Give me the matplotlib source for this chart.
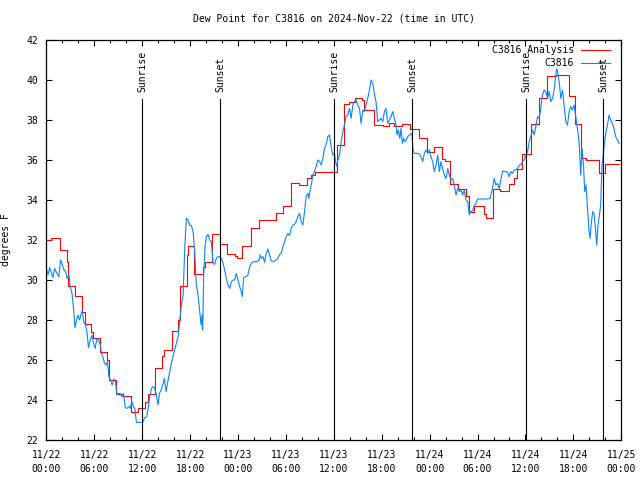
import numpy as np
import matplotlib
matplotlib.use("Agg")
from matplotlib import pyplot as plt
import matplotlib.dates as mdates

# hours since 2024-11-22 00:00 UTC
start = np.datetime64("2024-11-22T00:00")
end = np.datetime64("2024-11-25T00:00")

# analysis (step series): start hour of each step and its value
red_hours = [0.0, 0.65, 1.75, 2.6, 2.75, 3.6, 4.5, 4.8, 5.6, 5.8, 6.75, 7.6, 7.85,
             8.75, 9.6, 10.6, 11.5, 12.4, 12.75, 13.6, 14.5, 14.8, 15.7, 16.5, 16.75,
             17.6, 17.8, 18.5, 19.6, 19.9, 20.7, 21.8, 22.6, 23.6, 23.9, 24.5, 25.6,
             26.6, 28.7, 29.6, 30.6, 31.6, 32.6, 33.2, 33.6, 36.35, 37.3, 37.9, 38.6,
             39.5, 39.8, 41.0, 42.1, 42.9, 43.6, 44.6, 45.6, 46.7, 47.7, 48.6, 49.6,
             49.9, 50.6, 51.5, 52.5, 52.9, 53.6, 54.8, 55.1, 55.9, 56.8, 57.9, 58.6,
             59.0, 59.6, 60.7, 61.7, 62.7, 63.8, 65.4, 66.2, 67.0, 67.6, 69.2, 69.9,
             71.7]
red_vals = [32.0, 32.1, 31.5, 30.9, 29.7, 29.2, 28.4, 27.8, 27.4, 27.1, 26.4, 26.0, 25.0,
            24.3, 24.2, 23.4, 23.6, 23.9, 24.3, 25.6, 26.2, 26.5, 27.45, 28.0, 29.7,
            31.25, 31.7, 30.3, 30.65, 30.9, 32.3, 31.8, 31.3, 31.2, 31.1, 31.7, 32.6,
            33.0, 33.35, 33.7, 34.83, 34.75, 35.1, 35.25, 35.4, 36.75, 38.8, 38.9, 39.1,
            39.0, 38.5, 37.75, 37.7, 37.85, 37.7, 37.8, 37.55, 37.1, 36.4, 36.65, 36.05,
            35.95, 34.8, 34.55, 34.2, 33.4, 33.7, 33.3, 33.1, 34.55, 34.45, 34.8, 35.1,
            35.55, 36.3, 37.8, 39.1, 40.2, 40.25, 39.2, 37.8, 36.1, 36.0, 35.35, 35.8,
            35.8]

# station observations
blue_hours = [
    0, 0.21, 0.42, 0.62, 0.83, 1.04, 1.33, 1.58, 1.79, 2.0, 2.21, 2.42, 2.62, 2.83, 3.0,
    3.21, 3.42, 3.58, 3.75, 3.96, 4.17, 4.38, 4.5, 4.67, 4.92, 5.08, 5.29, 5.5, 5.71,
    5.92, 6.12, 6.33, 6.54, 6.75, 6.92, 7.08, 7.29, 7.5, 7.67, 7.83, 8.04, 8.25, 8.46,
    8.67, 8.83, 9.04, 9.25, 9.46, 9.67, 9.88, 10.08, 10.33, 10.5, 10.71, 10.92, 11.08,
    11.29, 11.67, 12.08, 12.33, 12.58, 12.75, 12.92, 13.17, 13.33, 13.54, 13.75, 14.0,
    14.17, 14.38, 14.58, 14.79, 15.0, 15.21, 15.42, 15.62, 16.0,
    16.5, 16.71, 16.92, 17.13, 17.33, 17.54, 17.75, 17.96, 18.17, 18.38, 18.58, 18.79,
    19.0, 19.21, 19.38, 19.5, 19.58, 19.71, 19.88, 20.04, 20.25, 20.46, 20.67, 20.88,
    21.08, 21.29, 21.5, 21.71, 21.92, 22.13, 22.33, 22.54, 22.75, 22.96, 23.17, 23.38,
    23.58, 23.79, 24.0, 24.21, 24.42, 24.54, 24.71, 24.96, 25.21, 25.38, 25.54, 25.79,
    26.08, 26.38, 26.63, 26.79, 26.96, 27.13, 27.33, 27.54, 27.75, 27.96, 28.17, 28.38,
    28.58,
    28.79, 29.0, 29.21, 29.42, 29.63, 29.83, 30.04, 30.25, 30.46, 30.67, 30.88, 31.08,
    31.29, 31.5, 31.71, 31.92, 32.13, 32.33, 32.54, 32.75, 32.88, 33.04, 33.21, 33.38,
    33.59, 33.79, 34.0, 34.21, 34.42, 34.63, 34.83, 35.04, 35.25, 35.46, 35.67, 35.88,
    36.08, 36.21, 36.38, 36.5, 36.71, 36.92, 37.13, 37.34, 37.54, 37.75, 37.96, 38.17,
    38.38, 38.59, 38.79, 39.0, 39.21, 39.42, 39.63, 39.83, 40.04, 40.25, 40.46, 40.67,
    40.88, 41.09, 41.29, 41.5, 41.71, 41.92, 42.13, 42.34, 42.54, 42.75, 42.96, 43.17,
    43.38, 43.59,
    43.80, 43.92, 44.09, 44.26, 44.42, 44.59, 44.76, 44.92, 45.09, 45.26, 45.47, 45.67,
    45.8, 45.92, 46.09, 46.3, 46.51, 46.72, 46.92, 47.13, 47.34, 47.55, 47.76, 47.97,
    48.17, 48.38, 48.59, 48.8, 49.01, 49.22, 49.42, 49.63, 49.84, 50.05, 50.26, 50.47,
    50.67, 50.88, 51.09, 51.3, 51.51, 51.72, 51.92, 52.13, 52.34, 52.55, 52.76, 52.97,
    53.09, 53.26, 53.42, 53.59, 53.8, 54.01, 54.42, 54.84, 55.26, 55.59, 55.76, 55.92,
    56.09, 56.3, 56.51, 56.72, 56.92, 57.13,
    57.55, 57.76, 57.97, 58.17, 58.38, 58.59, 58.8, 59.01, 59.22, 59.42, 59.63, 59.84,
    60.05, 60.26, 60.47, 60.67, 60.88, 61.09, 61.3, 61.51, 61.72, 61.92, 62.13, 62.34,
    62.55, 62.76, 62.97, 63.17, 63.38, 63.59, 63.8, 63.92, 64.09, 64.26, 64.42, 64.63,
    64.84, 65.05, 65.26, 65.47, 65.67, 65.88, 66.09, 66.3, 66.51, 66.72, 66.92, 67.09,
    67.26, 67.42, 67.59, 67.76, 67.97, 68.09, 68.26, 68.42, 68.59, 68.8, 68.92, 69.09,
    69.26, 69.42, 69.59, 69.76, 69.92, 70.09, 70.26, 70.47, 70.67, 70.88, 71.09, 71.3,
    71.51, 71.72]
blue_vals = [
    30.58, 30.25, 30.63, 30.38, 30.12, 30.58, 30.33, 30.17, 31.0, 30.78, 30.5, 30.42,
    30.08, 30.25, 29.67, 29.33, 28.58, 27.62, 27.92, 28.25, 28.0, 28.33, 28.5, 27.92,
    27.75, 27.42, 26.62, 27.0, 27.25, 26.83, 26.58, 27.08, 27.0, 26.75, 26.33, 26.17,
    25.83, 25.75, 25.92, 25.17, 25.0, 24.75, 25.05, 24.92, 24.25, 24.33, 24.33, 24.17,
    24.33, 23.62, 23.58, 23.67, 23.58, 23.92, 23.67, 23.58, 22.88, 22.88, 22.88, 23.12,
    23.17, 23.58, 24.08, 24.58, 24.67, 24.62, 24.33, 23.75, 24.33, 24.5, 24.75, 25.08,
    24.42, 24.92, 25.33, 25.75, 26.4,
    27.17, 28.0, 28.75, 29.25, 31.58, 33.08, 33.0, 32.75, 32.72, 32.42, 31.42, 29.75,
    29.25, 28.42, 27.75, 28.25, 27.5, 30.42, 31.67, 32.17, 32.28, 32.0, 31.92, 30.83,
    30.78, 31.08, 31.17, 31.17, 31.08, 30.83, 30.5, 30.08, 29.75, 29.58, 29.92, 30.0,
    30.0, 30.33, 30.0, 29.67, 29.42, 29.17, 30.12, 30.17, 30.22, 30.5, 30.75, 30.88,
    30.92, 30.92, 31.0, 31.25, 31.08, 31.17, 30.88, 31.33, 31.55, 31.25, 30.95, 30.92,
    30.95,
    31.0, 31.08, 31.28, 31.33, 31.67, 31.92, 32.17, 32.33, 32.22, 32.58, 32.75, 32.78,
    32.92, 33.17, 33.33, 32.92, 32.75, 33.42, 34.17, 34.33, 34.08, 34.5, 34.83, 35.25,
    35.42, 35.67, 36.0, 35.92, 35.75, 36.08, 36.58, 36.75, 37.17, 37.25, 36.67, 36.25,
    36.33, 35.92, 35.67, 36.0, 36.25, 36.92, 37.42, 37.75, 38.17, 38.25, 38.58, 38.08,
    38.75, 38.92, 39.0, 38.75, 38.58, 37.83, 38.5, 38.42, 38.75, 39.08, 39.5, 40.0,
    39.83, 39.33, 38.92, 37.92, 38.0, 38.08, 37.92, 38.42, 38.58, 37.83, 38.0, 38.17,
    38.42, 38.08,
    37.75, 37.25, 37.5, 37.08, 37.58, 36.83, 37.08, 36.92, 37.0, 37.17, 37.25, 37.33,
    37.25, 36.5, 36.33, 36.33, 36.33, 36.28, 36.17, 35.92, 36.33, 36.5, 36.33, 36.5,
    36.17, 35.92, 35.42, 35.75, 36.25, 35.42, 35.92, 35.58, 35.25, 35.08, 35.58, 35.25,
    35.0, 35.08, 34.75, 34.25, 34.58, 34.42, 34.5, 34.25, 34.5, 34.0, 33.92, 33.25,
    33.42, 33.42, 33.5, 33.72, 33.83, 34.05, 34.05, 34.05, 34.05, 34.08, 34.42, 34.67,
    35.08, 34.75, 34.83, 34.58, 35.0, 35.45,
    35.42, 35.38, 35.17, 35.42, 35.33, 35.5, 35.5, 35.58, 35.75, 35.75, 35.92, 36.0,
    36.25, 36.42, 36.92, 37.17, 37.5, 37.25, 37.67, 38.17, 38.08, 38.58, 39.25, 39.5,
    39.42, 39.08, 39.42, 38.92, 39.08, 39.5, 40.25, 40.58, 40.25, 39.75, 39.08, 39.5,
    38.75, 37.92, 37.75, 38.42, 38.67, 38.5, 38.75, 38.17, 37.5, 36.92, 35.25, 36.58,
    35.75, 34.42, 34.75, 33.58, 32.42, 32.08, 32.92, 33.42, 33.33, 32.42, 31.75, 32.75,
    33.25, 33.75, 35.75, 36.42, 36.92, 37.42, 37.75, 38.25, 38.0, 37.83, 37.58, 37.17,
    37.0, 36.83]

event_times = ["2024-11-22T12:02", "2024-11-22T21:47", "2024-11-23T12:03",
               "2024-11-23T21:48", "2024-11-24T12:05", "2024-11-24T21:42"]
event_labels = ["Sunrise", "Sunset", "Sunrise", "Sunset", "Sunrise", "Sunset"]

series_names = ["C3816 Analysis", "C3816"]
series_colors = ["#ff0000", "#0a84ff"]


def to_time(hours):
    mins = np.round(np.asarray(hours) * 60).astype("timedelta64[m]")
    return start + mins


plt.rcParams["font.family"] = "DejaVu Sans Mono"
plt.rcParams["font.size"] = 7

fig = plt.figure(figsize=(6.4, 4.8), dpi=100)
ax = fig.add_axes([46.3 / 640, 40 / 480, 575 / 640, 400 / 480])

lw = 0.8
ax.plot(to_time(red_hours), red_vals, color=series_colors[0], lw=lw,
        drawstyle="steps-post")
ax.plot(to_time(blue_hours), blue_vals, color=series_colors[1], lw=lw)

for t, lbl in zip(event_times, event_labels):
    tt = np.datetime64(t)
    ax.axvline(tt, ymin=0, ymax=0.8525, color="black", lw=lw)
    ax.text(tt, 0.871, lbl, rotation=90, ha="center", va="bottom",
            transform=ax.get_xaxis_transform())

# legend, gnuplot style (right-aligned text, sample line after it)
for i, (name, col) in enumerate(zip(series_names, series_colors)):
    yy = 0.975 - i * 0.032
    ax.text(0.918, yy, name, ha="right", va="center", transform=ax.transAxes)
    ax.plot([0.9295, 0.981], [yy, yy], color=col, lw=lw,
            transform=ax.transAxes, clip_on=False)

ax.set_xlim(start, end)
ax.set_ylim(22, 42)
ax.set_yticks(np.arange(22, 43, 2))
ax.xaxis.set_major_locator(mdates.HourLocator(byhour=[0, 6, 12, 18]))
ax.xaxis.set_minor_locator(mdates.HourLocator(interval=2))
ax.xaxis.set_major_formatter(mdates.DateFormatter("%m/%d\n%H:%M"))

ax.tick_params(which="both", direction="in", top=True, right=True, width=0.8)
ax.tick_params(which="major", length=4)
ax.tick_params(which="minor", length=2.5)
ax.tick_params(axis="x", pad=7)
ax.tick_params(axis="y", pad=6)
for s in ax.spines.values():
    s.set_linewidth(0.9)

ax.set_title("Dew Point for C3816 on 2024-Nov-22 (time in UTC)", fontsize=7, pad=13)
ax.set_ylabel("degrees F")
ax.yaxis.set_label_coords(-0.062, 0.5)

fig.canvas.draw()
for lbl in ax.get_xticklabels():
    lbl.set_linespacing(1.55)

fig.savefig("out.png", dpi=100)
